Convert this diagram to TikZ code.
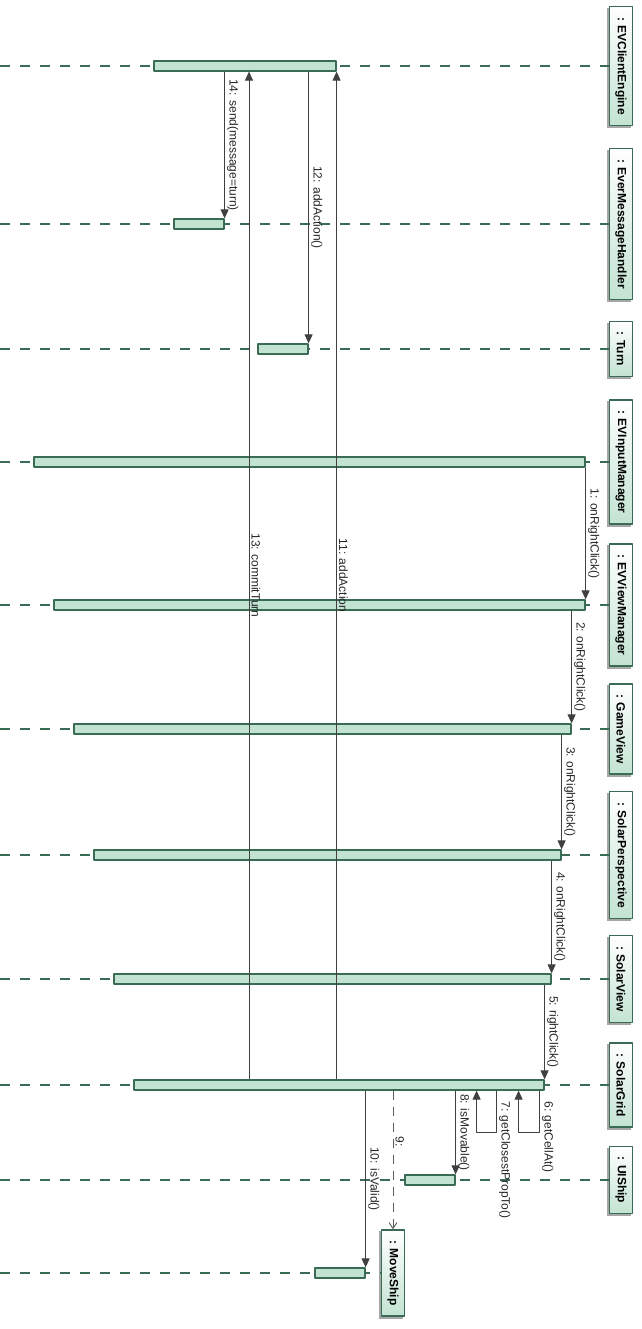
\documentclass[tikz,border=0pt]{standalone}
\usepackage{fontspec}
\setmainfont{Liberation Sans}
\usetikzlibrary{arrows.meta}

\definecolor{barfill}{HTML}{C3E3D2}
\definecolor{bardraw}{HTML}{3A6B55}
\definecolor{msgcol}{HTML}{404040}

\pgfdeclarelayer{shadow}
\pgfsetlayers{shadow,main}

\begin{document}
\begin{tikzpicture}[
        x = 1pt, y = -1pt,
        line join=round,
        lifestyle/.style = {bardraw, line width=1.2pt, dash pattern=on 10pt off 10pt},
        objstyle/.style = {draw=bardraw, line width=1.2pt, rotate=-90, minimum height=23pt, inner xsep=10.5pt,
            bottom color=barfill, top color=white,
            font=\fontsize{12}{14}\selectfont\bfseries},
        shadowstyle/.style = {fill=black!35},
        barstyle/.style = {draw=bardraw, fill=barfill, line width=1.2pt, minimum height=10pt, inner sep=0pt},
        msgstyle/.style = {msgcol, line width=0.9pt, -{Triangle[width=8pt,length=9pt]}},
        createstyle/.style = {msgcol!85, line width=0.9pt, dash pattern=on 9pt off 7pt, -{Straight Barb[width=8pt,length=6pt]}},
        lblstyle/.style = {rotate=-90, anchor=south, inner sep=2pt, text=black!85, font=\fontsize{12}{14}\selectfont}
    ]

    \useasboundingbox (0,0) rectangle (641,1329);
    \coordinate (left) at (0,0);
    \coordinate (ct) at (249,0);

    % objects
    \node[objstyle] (ce) at (621,66) {: EVClientEngine};
    \node[objstyle] (emh) at (621,224) {: EverMessageHandler};
    \node[objstyle] (tn) at (621,349) {: Turn};
    \node[objstyle] (im) at (621,462) {: EVInputManager};
    \node[objstyle] (vm) at (621,605) {: EVViewManager};
    \node[objstyle] (gv) at (621,729) {: GameView};
    \node[objstyle] (sp) at (621,855) {: SolarPerspective};
    \node[objstyle] (sv) at (621,979) {: SolarView};
    \node[objstyle] (sg) at (621,1085) {: SolarGrid};
    \node[objstyle] (us) at (621,1180) {: UIShip};
    \node[objstyle] (ms) at (393,1273) {: MoveShip};

    \begin{pgfonlayer}{shadow}
        \foreach \obj in {ce,emh,tn,im,vm,gv,sp,sv,sg,us,ms}
            \fill[shadowstyle] ([shift={(-2,2)}]\obj.south west) rectangle ([shift={(-2,2)}]\obj.north east);
    \end{pgfonlayer}

    % lifelines
    \draw[lifestyle] (left |- ce.south) -- (ce.south);
    \draw[lifestyle] (left |- emh.south) -- (emh.south);
    \draw[lifestyle] (left |- tn.south) -- (tn.south);
    \draw[lifestyle] (left |- im.south) -- (im.south);
    \draw[lifestyle] (left |- vm.south) -- (vm.south);
    \draw[lifestyle] (left |- gv.south) -- (gv.south);
    \draw[lifestyle] (left |- sp.south) -- (sp.south);
    \draw[lifestyle] (left |- sv.south) -- (sv.south);
    \draw[lifestyle] (left |- sg.south) -- (sg.south);
    \draw[lifestyle] (left |- us.south) -- (us.south);
    \draw[lifestyle] (left |- ms.south) -- (ms.south);

    % activations
    \node[barstyle, minimum width=182pt] (cebar) at (245,66) {};
    \node[barstyle, minimum width=50pt] (emhbar) at (199,224) {};
    \node[barstyle, minimum width=50pt] (tbar) at (283,349) {};
    \node[barstyle, minimum width=551pt] (imbar) at (309.5,462) {};
    \node[barstyle, minimum width=531pt] (vmbar) at (319.5,605) {};
    \node[barstyle, minimum width=497pt] (gvbar) at (322.5,729) {};
    \node[barstyle, minimum width=467pt] (spbar) at (327.5,855) {};
    \node[barstyle, minimum width=437pt] (svbar) at (332.5,979) {};
    \node[barstyle, minimum width=410pt] (sgbar) at (339,1085) {};
    \node[barstyle, minimum width=50pt] (usbar) at (430,1180) {};
    \node[barstyle, minimum width=50pt] (msbar) at (340,1273) {};

    % messages
    \draw[msgstyle] (imbar.south east) -- node[lblstyle] {1: onRightClick()} (vmbar.north east);
    \draw[msgstyle] (vmbar.south -| gvbar.east) -- node[lblstyle] {2: onRightClick()} (gvbar.north east);
    \draw[msgstyle] (gvbar.south -| spbar.east) -- node[lblstyle] {3: onRightClick()} (spbar.north east);
    \draw[msgstyle] (spbar.south -| svbar.east) -- node[lblstyle] {4: onRightClick()} (svbar.north east);
    \draw[msgstyle] (svbar.south -| sgbar.east) -- node[lblstyle] {5: rightClick()} (sgbar.north east);
    \draw[msgstyle] ([xshift=-5pt]sgbar.south east) -- node[lblstyle, anchor=south west, pos=0.2] {6: getCellAt()} ++(0,42) -- ++(-21,0) -- ++(0,-42);
    \draw[msgstyle] ([xshift=-48pt]sgbar.south east) -- node[lblstyle, anchor=south west, pos=0.2] {7: getClosestPropTo()} ++(0,42) -- ++(-20,0) -- ++(0,-42);
    \draw[msgstyle] (sgbar.south -| usbar.east) -- node[lblstyle] {8: isMovable()} (usbar.north east);
    \draw[createstyle] (sgbar.south -| ms.west) -- node[lblstyle, pos=0.37] {9:} (ms.west);
    \draw[msgstyle] (sgbar.south -| msbar.east) -- node[lblstyle] {10: isValid()} (msbar.north east);
    \draw[msgstyle] (sgbar.north -| cebar.east) -- node[lblstyle] {11: addAction} (cebar.south east);
    \draw[msgstyle] (cebar.south -| tbar.east) -- node[lblstyle] {12: addAction()} (tbar.north east);
    \draw[msgstyle] (sgbar.north -| ct) -- node[lblstyle] {13: commitTurn} (cebar.south -| ct);
    \draw[msgstyle] (cebar.south -| emhbar.east) -- node[lblstyle] {14: send(message=turn)} (emhbar.north east);
\end{tikzpicture}
\end{document}
